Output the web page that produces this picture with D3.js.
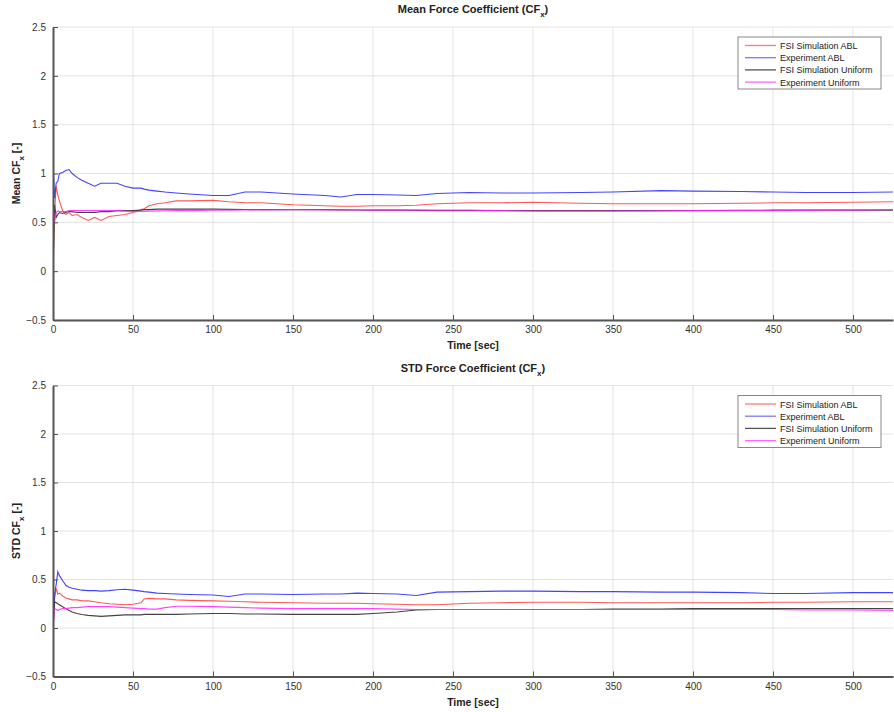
<!DOCTYPE html>
<html>
<head>
<meta charset="utf-8">
<script src="https://cdn.jsdelivr.net/npm/d3@7"></script>
<style>
  body { margin: 0; background: #fff; }
  svg { font-family: "Liberation Sans", Arial, sans-serif; }
  .grid line { stroke: #e3e3e3; stroke-width: 1; }
  .axis path, .axis line { stroke: #555; }
  .axis text { fill: #333; font-size: 10px; }
</style>
</head>
<body>
<div id="chart"></div>
<script>
// Temps (s)
const time = [0, 1, 2, 3, 4, 6, 8, 10, 12, 15, 18, 22, 26, 30, 35, 40, 45, 50, 55, 57, 60, 65, 70, 77, 85,
  100, 110, 120, 130, 150, 170, 180, 190, 200, 215, 227, 240, 260, 280, 300, 330, 350, 380, 400, 430, 450, 470, 500, 525];

// Moyenne CFx
const meanFsiAbl = [0.0, 0.6, 0.87, 0.78, 0.72, 0.62, 0.58, 0.6, 0.57, 0.58, 0.55, 0.52, 0.55, 0.52, 0.56, 0.57, 0.58, 0.6, 0.63, 0.64, 0.67, 0.69, 0.70, 0.72, 0.72,
  0.725, 0.71, 0.70, 0.70, 0.68, 0.67, 0.665, 0.665, 0.67, 0.67, 0.675, 0.69, 0.70, 0.70, 0.705, 0.695, 0.69, 0.69, 0.69, 0.695, 0.70, 0.70, 0.705, 0.71];
const meanExpAbl = [1.12, 0.75, 0.9, 0.92, 1.0, 1.01, 1.03, 1.04, 1.0, 0.96, 0.93, 0.9, 0.87, 0.9, 0.9, 0.9, 0.87, 0.85, 0.85, 0.84, 0.83, 0.82, 0.81, 0.8, 0.79,
  0.775, 0.775, 0.81, 0.81, 0.79, 0.775, 0.76, 0.785, 0.785, 0.78, 0.775, 0.795, 0.805, 0.80, 0.80, 0.805, 0.81, 0.825, 0.82, 0.815, 0.81, 0.805, 0.805, 0.81];
const meanFsiUni = [0.0, 0.68, 0.55, 0.58, 0.6, 0.59, 0.6, 0.61, 0.61, 0.6, 0.6, 0.6, 0.6, 0.61, 0.61, 0.62, 0.62, 0.62, 0.625, 0.63, 0.63, 0.635, 0.635, 0.635, 0.635,
  0.635, 0.633, 0.632, 0.63, 0.63, 0.63, 0.628, 0.627, 0.625, 0.625, 0.622, 0.62, 0.62, 0.62, 0.62, 0.62, 0.62, 0.62, 0.62, 0.622, 0.625, 0.625, 0.625, 0.625];
const meanExpUni = [0.7, 0.5, 0.6, 0.62, 0.61, 0.61, 0.61, 0.62, 0.62, 0.62, 0.62, 0.62, 0.62, 0.62, 0.62, 0.62, 0.615, 0.61, 0.612, 0.612, 0.615, 0.617, 0.618, 0.62, 0.62,
  0.625, 0.625, 0.627, 0.628, 0.63, 0.628, 0.627, 0.626, 0.625, 0.625, 0.625, 0.625, 0.625, 0.62, 0.615, 0.615, 0.615, 0.617, 0.62, 0.62, 0.62, 0.622, 0.625, 0.63];

// Écart-type CFx
const stdFsiAbl = [0.0, 0.3, 0.41, 0.35, 0.36, 0.33, 0.31, 0.3, 0.29, 0.29, 0.28, 0.28, 0.27, 0.26, 0.25, 0.245, 0.24, 0.245, 0.26, 0.30, 0.305, 0.30, 0.30, 0.29, 0.285,
  0.28, 0.275, 0.27, 0.265, 0.26, 0.255, 0.255, 0.255, 0.25, 0.245, 0.24, 0.24, 0.255, 0.26, 0.265, 0.265, 0.26, 0.26, 0.26, 0.26, 0.265, 0.265, 0.27, 0.27];
const stdExpAbl = [0.0, 0.35, 0.45, 0.58, 0.54, 0.49, 0.44, 0.42, 0.41, 0.40, 0.39, 0.385, 0.385, 0.38, 0.385, 0.395, 0.40, 0.39, 0.38, 0.375, 0.37, 0.36, 0.355, 0.35, 0.345,
  0.34, 0.325, 0.35, 0.35, 0.345, 0.35, 0.35, 0.36, 0.355, 0.35, 0.335, 0.37, 0.375, 0.38, 0.38, 0.375, 0.375, 0.37, 0.37, 0.365, 0.355, 0.355, 0.365, 0.365];
const stdFsiUni = [0.0, 0.27, 0.26, 0.25, 0.24, 0.22, 0.2, 0.18, 0.165, 0.15, 0.14, 0.13, 0.125, 0.12, 0.125, 0.13, 0.135, 0.135, 0.135, 0.14, 0.14, 0.14, 0.14, 0.14, 0.145,
  0.15, 0.15, 0.145, 0.145, 0.14, 0.14, 0.14, 0.14, 0.15, 0.165, 0.185, 0.19, 0.19, 0.19, 0.19, 0.19, 0.195, 0.195, 0.2, 0.2, 0.2, 0.2, 0.2, 0.2];
const stdExpUni = [0.0, 0.2, 0.19, 0.18, 0.19, 0.2, 0.2, 0.205, 0.21, 0.21, 0.215, 0.22, 0.22, 0.22, 0.22, 0.215, 0.21, 0.205, 0.2, 0.2, 0.195, 0.195, 0.21, 0.225, 0.225,
  0.22, 0.215, 0.21, 0.205, 0.2, 0.2, 0.2, 0.2, 0.2, 0.195, 0.19, 0.19, 0.19, 0.19, 0.19, 0.19, 0.19, 0.19, 0.19, 0.19, 0.19, 0.185, 0.185, 0.18];

const seriesNames = ["FSI Simulation ABL", "Experiment ABL", "FSI Simulation Uniform", "Experiment Uniform"];
const lineColors = ["#ff3030", "#2222ff", "#222222", "#ff22ff"];
const legendColors = ["#ff7a7a", "#7a7aff", "#555555", "#ff66ff"];
const xTicks = [0, 50, 100, 150, 200, 250, 300, 350, 400, 450, 500];
const yTicks = [-0.5, 0, 0.5, 1, 1.5, 2, 2.5];

const W = 894, H = 712;
const svg = d3.select("#chart").append("svg")
  .attr("width", W)
  .attr("height", H);

const left = 53, right = 893;
const x = d3.scaleLinear().domain([0, 525]).range([left, right]);

function drawPanel(top, bottom, titleMain, ylabelMain, series, id) {
  const y = d3.scaleLinear().domain([-0.5, 2.5]).range([bottom, top]);
  const g = svg.append("g");

  // Grille
  const grid = g.append("g").attr("class", "grid");
  grid.selectAll(".gx").data(xTicks.slice(1)).join("line")
    .attr("x1", d => x(d)).attr("x2", d => x(d))
    .attr("y1", top).attr("y2", bottom);
  grid.selectAll(".gy").data(yTicks).join("line")
    .attr("x1", left).attr("x2", right)
    .attr("y1", d => y(d)).attr("y2", d => y(d));

  // Courbes
  g.append("clipPath").attr("id", "clip-" + id)
    .append("rect").attr("x", left).attr("y", top).attr("width", right - left).attr("height", bottom - top);

  const line = d3.line().x((d, i) => x(time[i])).y(d => y(d));
  g.append("g").attr("clip-path", `url(#clip-${id})`)
    .selectAll("path").data(series).join("path")
    .attr("d", d => line(d))
    .attr("fill", "none")
    .attr("stroke", (d, i) => lineColors[i])
    .attr("stroke-opacity", (d, i) => i === 0 ? 0.8 : 0.85)
    .attr("stroke-width", 1.1);

  // Axes
  g.append("g").attr("class", "axis")
    .attr("transform", `translate(0,${bottom})`)
    .call(d3.axisBottom(x).tickValues(xTicks).tickSizeInner(-5).tickSizeOuter(0).tickPadding(6))
    .call(a => a.select(".domain").attr("stroke-width", 2));
  g.append("g").attr("class", "axis")
    .attr("transform", `translate(${left},0)`)
    .call(d3.axisLeft(y).tickValues(yTicks).tickFormat(d3.format("")).tickSizeInner(-5).tickSizeOuter(0).tickPadding(7))
    .call(a => a.select(".domain").attr("stroke-width", 2));

  // Titre
  const title = g.append("text")
    .attr("x", (left + right) / 2).attr("y", top - 14)
    .attr("text-anchor", "middle")
    .style("font-size", "11px").style("font-weight", "bold").style("fill", "#222");
  title.append("tspan").text(titleMain + " (CF");
  title.append("tspan").attr("dy", 4).style("font-size", "8px").text("x");
  title.append("tspan").attr("dy", -4).text(")");

  g.append("text")
    .attr("x", (left + right) / 2).attr("y", bottom + 29)
    .attr("text-anchor", "middle")
    .style("font-size", "10.5px").style("font-weight", "bold").style("fill", "#222")
    .text("Time [sec]");

  const yl = g.append("text")
    .attr("transform", `translate(20,${(top + bottom) / 2}) rotate(-90)`)
    .attr("text-anchor", "middle")
    .style("font-size", "10.5px").style("font-weight", "bold").style("fill", "#222");
  yl.append("tspan").text(ylabelMain + " CF");
  yl.append("tspan").attr("dy", 4).style("font-size", "8px").text("x");
  yl.append("tspan").attr("dy", -4).text(" [-]");

  // Légende
  const lg = g.append("g").attr("transform", `translate(738,${top + 10})`);
  lg.append("rect").attr("width", 143).attr("height", 52)
    .attr("fill", "#fff").attr("stroke", "#888").attr("stroke-width", 1);
  seriesNames.forEach((name, i) => {
    lg.append("line")
      .attr("x1", 7).attr("x2", 38)
      .attr("y1", 8.5 + i * 12.2).attr("y2", 8.5 + i * 12.2)
      .attr("stroke", legendColors[i]).attr("stroke-width", 1.3);
    lg.append("text")
      .attr("x", 42).attr("y", 12 + i * 12.2)
      .style("font-size", "9px").style("fill", "#222")
      .text(name);
  });
}

drawPanel(27, 320, "Mean Force Coefficient", "Mean",
  [meanFsiAbl, meanExpAbl, meanFsiUni, meanExpUni], "mean");
drawPanel(385.5, 676.5, "STD Force Coefficient", "STD",
  [stdFsiAbl, stdExpAbl, stdFsiUni, stdExpUni], "std");
</script>
</body>
</html>
